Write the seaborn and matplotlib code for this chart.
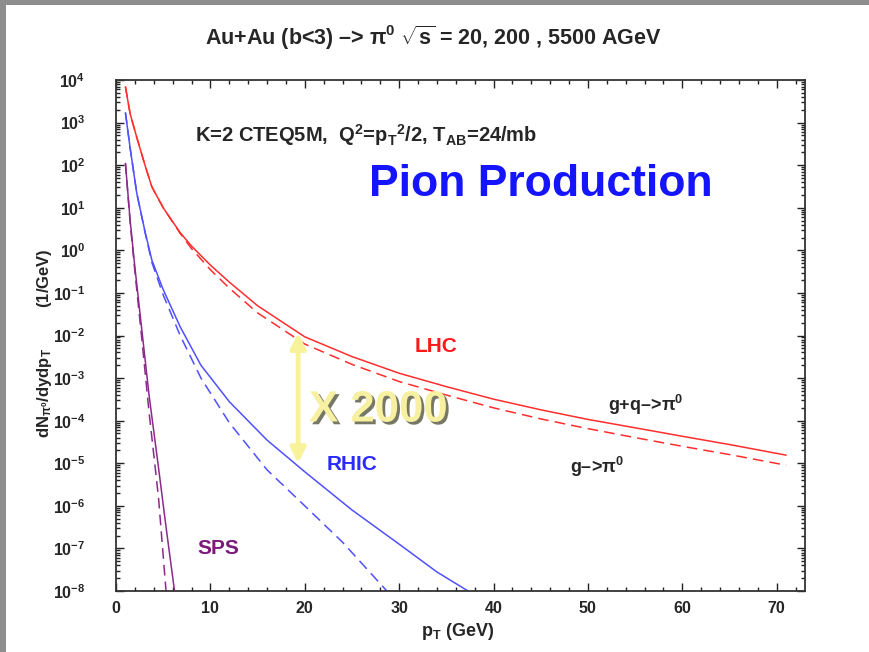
import math
import matplotlib
matplotlib.use("Agg")
import matplotlib.pyplot as plt
import matplotlib.patheffects as pe
from matplotlib.patches import Rectangle
from matplotlib.ticker import LogLocator, MultipleLocator, FuncFormatter, NullFormatter
import pandas as pd
import seaborn as sns

# Neutral-pion spectra dN/dy dpT (1/GeV) vs pT (GeV), central Au+Au
# g+q -> pi0 (full) and g -> pi0 (gluon fragmentation only)
pt_lhc = [1.0, 1.5, 2.2, 3.1, 3.8, 5.0, 6.8, 8.0, 10.0, 12.0, 15.0, 20.0, 25.0,
          30.0, 35.0, 40.0, 45.0, 50.0, 55.0, 60.0, 65.0, 71.0]
lhc_gq = [6.9e3, 1.6e3, 4.5e2, 9.5e1, 3.1e1, 1.0e1, 2.6, 1.26, 4.5e-1, 1.8e-1,
          5.0e-2, 9.3e-3, 3.2e-3, 1.3e-3, 6.3e-4, 3.2e-4, 1.8e-4, 1.07e-4,
          6.8e-5, 4.3e-5, 2.75e-5, 1.55e-5]
lhc_g = [6.9e3, 1.6e3, 4.5e2, 9.5e1, 3.1e1, 1.0e1, 2.5, 1.1, 3.5e-1, 1.3e-1,
         3.4e-2, 6.3e-3, 2.1e-3, 8.3e-4, 4.0e-4, 2.0e-4, 1.1e-4, 6.5e-5,
         4.0e-5, 2.5e-5, 1.6e-5, 9.0e-6]

pt_rhic_gq = [1.0, 1.5, 2.2, 3.1, 3.8, 5.0, 6.8, 9.0, 12.0, 16.0, 20.0, 25.0,
              30.0, 34.0, 37.3]
rhic_gq = [1.7e3, 2.5e2, 2.2e1, 2.6, 5.9e-1, 1.2e-1, 1.6e-2, 2.0e-3, 2.8e-4,
           3.5e-5, 6.3e-6, 8.0e-7, 1.26e-7, 2.8e-8, 1.0e-8]
pt_rhic_g = [1.0, 1.5, 2.2, 3.1, 3.8, 5.0, 6.8, 9.0, 12.0, 16.0, 20.0, 24.0, 28.7]
rhic_g = [1.7e3, 2.5e2, 2.2e1, 2.5, 5.2e-1, 9.0e-2, 1.0e-2, 1.0e-3, 9.0e-5,
          7.0e-6, 1.0e-6, 1.4e-7, 1.0e-8]

pt_sps_gq = [1.0, 1.5, 2.0, 2.7, 3.5, 4.5, 5.3, 6.2]
sps_gq = [1.1e2, 5.0, 4.0e-1, 1.6e-2, 4.0e-4, 8.0e-6, 3.2e-7, 1.0e-8]
pt_sps_g = [1.0, 1.5, 2.0, 2.7, 3.5, 4.5, 5.3]
sps_g = [1.1e2, 4.5, 3.2e-1, 1.0e-2, 1.6e-4, 1.6e-6, 1.0e-8]

x_ticks = [0, 10, 20, 30, 40, 50, 60, 70]


def frame(pt, dn, system, process):
    return pd.DataFrame({"pT": pt, "dN": dn, "system": system, "process": process})


df = pd.concat([
    frame(pt_lhc, lhc_gq, "LHC", "g+q"),
    frame(pt_lhc, lhc_g, "LHC", "g"),
    frame(pt_rhic_gq, rhic_gq, "RHIC", "g+q"),
    frame(pt_rhic_g, rhic_g, "RHIC", "g"),
    frame(pt_sps_gq, sps_gq, "SPS", "g+q"),
    frame(pt_sps_g, sps_g, "SPS", "g"),
], ignore_index=True)

sns.set_style("ticks")
plt.rcParams["font.family"] = ["Liberation Sans", "DejaVu Sans"]
plt.rcParams["font.weight"] = "bold"
plt.rcParams["mathtext.fontset"] = "custom"
plt.rcParams["mathtext.rm"] = "Liberation Sans:bold"
plt.rcParams["mathtext.it"] = "Liberation Sans:bold"
plt.rcParams["mathtext.bf"] = "Liberation Sans:bold"
plt.rcParams["mathtext.default"] = "bf"

W, H = 870, 652
fig = plt.figure(figsize=(W / 100, H / 100), dpi=100)
fig.patch.set_facecolor("white")

# slide frame strips
fig.patches.append(Rectangle((0, 1 - 5 / H), 1, 5 / H, transform=fig.transFigure,
                             facecolor="#8e8e8e", edgecolor="none", zorder=-5))
fig.patches.append(Rectangle((0, 0), 6 / W, 1, transform=fig.transFigure,
                             facecolor="#8e8e8e", edgecolor="none", zorder=-5))

left, right, top, bottom = 116, 805, 80, 591
ax = fig.add_axes([left / W, 1 - bottom / H, (right - left) / W, (bottom - top) / H])

palette = {"LHC": "#ff2e2e", "RHIC": "#5050ff", "SPS": "#8a2a8a"}
sns.lineplot(data=df, x="pT", y="dN", hue="system", style="process",
             palette=palette, dashes={"g+q": "", "g": (7, 4)},
             estimator=None, sort=False, legend=False, linewidth=1.1, ax=ax)

ax.set_yscale("log")
ax.set_xlim(0, 73)
ax.set_ylim(1e-8, 1e4)
ax.set_xlabel("")
ax.set_ylabel("")

ax.yaxis.set_major_locator(LogLocator(base=10, numticks=30))
ax.yaxis.set_minor_locator(LogLocator(base=10, subs=range(2, 10), numticks=30))
ax.yaxis.set_major_formatter(FuncFormatter(lambda v, p: r"$10^{%d}$" % round(math.log10(v))))
ax.yaxis.set_minor_formatter(NullFormatter())
ax.set_xticks(x_ticks)
ax.xaxis.set_minor_locator(MultipleLocator(2))

ax.tick_params(which="both", direction="in", top=True, right=True, width=1.0, color="#222222")
ax.tick_params(which="major", length=5.5, labelsize=11.5)
ax.tick_params(which="minor", length=3.0)
ax.tick_params(axis="y", which="major", pad=22)
ax.tick_params(axis="x", which="major", pad=7)
for lab in ax.get_xticklabels() + ax.get_yticklabels():
    lab.set_fontweight("bold")
for s in ax.spines.values():
    s.set_linewidth(1.3)
    s.set_color("#333333")


def ptext(x, y, s, **kw):
    """Place text at pixel position measured from the top-left corner."""
    return fig.text(x / W, 1 - y / H, s, **kw)


# titles and axis labels
ptext(433, 38, r"Au+Au (b<3) –> π$^{0}$ $\sqrt{s}$ = 20, 200 , 5500 AGeV",
      ha="center", va="center", fontsize=15.5, fontweight="bold")
ptext(458, 632, r"p$_{T}$ (GeV)", ha="center", va="center", fontsize=13, fontweight="bold")
ptext(45, 343, r"dN$_{\pi^0}$/dydp$_{T}$         (1/GeV)", ha="center",
      va="center", rotation=90, fontsize=12, fontweight="bold")

ptext(195, 135, r"K=2 CTEQ5M,  Q$^{2}$=p$_{T}$$^{2}$/2, T$_{AB}$=24/mb",
      fontsize=14.5, fontweight="bold", ha="left", va="center")

# annotations inside the frame
ptext(369, 185, "Pion Production", color="#1414ff", fontsize=32, fontweight="bold",
      ha="left", va="center")
ptext(415, 347, "LHC", color="#ff1a1a", fontsize=15, fontweight="bold", va="center")
ptext(327, 465, "RHIC", color="#2a2aff", fontsize=15, fontweight="bold", va="center")
ptext(197, 548, "SPS", color="#7a1a7a", fontsize=15, fontweight="bold", va="center")
ptext(608, 405, r"g+q–>π$^{0}$", fontsize=13, fontweight="bold", va="center")
ptext(570, 467, r"g–>π$^{0}$", fontsize=13, fontweight="bold", va="center")

# enhancement arrow between RHIC and LHC at pT ~ 20 GeV
ax.annotate("", xy=(19.3, 1.15e-2), xytext=(19.3, 1.0e-5),
            arrowprops=dict(arrowstyle="<|-|>", color="#f8f29a", lw=3.5,
                            mutation_scale=22, shrinkA=0, shrinkB=0))
ptext(309, 410, "X 2000", color="#f6f0a0", fontsize=31.5, fontweight="bold", va="center",
      path_effects=[pe.withSimplePatchShadow(offset=(2, -2), shadow_rgbFace="#555540", alpha=0.8)])

fig.savefig("out.png", dpi=100)
